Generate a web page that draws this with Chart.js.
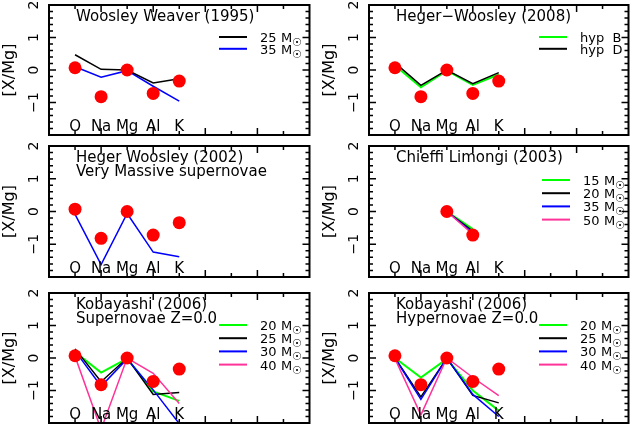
<!DOCTYPE html>
<html>
<head>
<meta charset="utf-8">
<script src="https://cdn.jsdelivr.net/npm/chart.js@4.4.1/dist/chart.umd.min.js"></script>
<style>
  html, body { margin: 0; padding: 0; background: #fff; overflow: hidden; }
  #wrap { position: relative; width: 635px; height: 425px; }
  #wrap canvas { position: absolute; }
</style>
</head>
<body>
<div id="wrap"></div>
<script>
// elements on the x axis and where they sit (axis runs 0..10)
const elements = ['O', 'Na', 'Mg', 'Al', 'K'];
const elementX = [1, 2, 3, 4, 5];
const yTicks = [2, 1, 0, -1];
const yTickLabels = ['2', '1', '0', '\u22121'];

// observed abundances (red dots)
const observed = [0.07, -0.82, 0.0, -0.72, -0.34];

// Woosley & Weaver (1995)
const ww95_25 = [0.47, 0.02, 0.0, -0.40, -0.27];
const ww95_35 = [0.10, -0.22, -0.02, -0.50, -0.96];

// Heger & Woosley (2008)
const hw08_B = [0.14, -0.53, -0.02, -0.46, -0.14];
const hw08_D = [0.22, -0.47, 0.0, -0.42, -0.08];

// Heger & Woosley (2002) very massive
const hw02 = [-0.09, -1.62, -0.06, -1.24, -1.38];

// Chieffi & Limongi (2003), only Mg and Al
const cl03_15 = [null, null, 0.0, -0.54, null];
const cl03_20 = [null, null, 0.0, -0.60, null];
const cl03_35 = [null, null, 0.0, -0.65, null];
const cl03_50 = [null, null, 0.0, -0.69, null];

// Kobayashi (2006) supernovae Z=0
const k06sn_20 = [0.18, -0.45, -0.02, -1.03, -1.32];
const k06sn_25 = [0.28, -0.73, 0.0, -1.12, -1.06];
const k06sn_30 = [0.22, -0.87, -0.03, -0.98, -2.02];
const k06sn_40 = [0.05, -2.2, 0.0, -0.47, -1.40];

// Kobayashi (2006) hypernovae Z=0
const k06hn_20 = [0.0, -0.60, -0.03, -1.00, -1.62];
const k06hn_25 = [0.0, -1.20, 0.0, -1.15, -1.38];
const k06hn_30 = [0.0, -1.27, 0.0, -1.12, -1.80];
const k06hn_40 = [-0.02, -1.75, 0.0, -0.60, -1.16];

const GREEN = '#00ff00', BLACK = '#000000', BLUE = '#0000ff', PINK = '#ff3399';
const FONT = '"DejaVu Sans", sans-serif';

function pts(vals) {
  return vals.map((v, i) => ({ x: elementX[i], y: v }));
}

function model(vals, color) {
  return {
    data: pts(vals), borderColor: color, borderWidth: color === GREEN ? 2 : 1.5,
    pointRadius: 0, fill: false, tension: 0, spanGaps: false
  };
}

function dots(vals) {
  return {
    data: pts(vals), showLine: false, pointRadius: 6.5, pointHoverRadius: 6.5,
    pointBackgroundColor: '#ff0000', pointBorderColor: '#ff0000', pointBorderWidth: 0
  };
}

// frame, inward ticks, labels, titles and legend
const decor = {
  id: 'decor',
  afterDatasetsDraw(chart, args, opts) {
    const { ctx, chartArea: a, scales: { x, y } } = chart;
    ctx.save();
    ctx.strokeStyle = '#000';
    ctx.lineWidth = 2;
    ctx.strokeRect(a.left, a.top, a.right - a.left, a.bottom - a.top);

    ctx.lineWidth = 1.5;
    ctx.beginPath();
    for (let i = 1; i < 10; i++) {
      const px = x.getPixelForValue(i);
      const len = i % 2 ? 4 : 7;
      ctx.moveTo(px, a.bottom); ctx.lineTo(px, a.bottom - len);
      ctx.moveTo(px, a.top); ctx.lineTo(px, a.top + len);
    }
    for (let k = -9; k <= 9; k++) {
      const py = y.getPixelForValue(k / 5);
      const len = k % 5 ? 4 : 7;
      ctx.moveTo(a.left, py); ctx.lineTo(a.left + len, py);
      ctx.moveTo(a.right, py); ctx.lineTo(a.right - len, py);
    }
    ctx.stroke();

    ctx.fillStyle = '#000';
    // element names inside the box
    ctx.font = '15px ' + FONT;
    ctx.textAlign = 'center';
    ctx.textBaseline = 'alphabetic';
    elements.forEach((el, i) => {
      ctx.fillText(el, x.getPixelForValue(elementX[i]), a.bottom - 4);
    });

    // rotated y tick labels and axis title
    ctx.font = '14px ' + FONT;
    yTicks.forEach((t, i) => {
      ctx.save();
      ctx.translate(a.left - 11, y.getPixelForValue(t));
      ctx.rotate(-Math.PI / 2);
      ctx.fillText(yTickLabels[i], 0, 0);
      ctx.restore();
    });
    ctx.save();
    ctx.font = '16px ' + FONT;
    ctx.translate(a.left - 35, (a.top + a.bottom) / 2);
    ctx.rotate(-Math.PI / 2);
    ctx.fillText('[X/Mg]', 0, 0);
    ctx.restore();

    // title lines
    ctx.textAlign = 'left';
    ctx.font = '15px ' + FONT;
    (opts.title || []).forEach((line, i) => {
      ctx.fillText(line, a.left + 27, a.top + 16 + i * 14);
    });

    // legend
    const lg = opts.legend || [];
    const gap = lg.length > 2 ? 13.2 : 11.8;
    const y0 = a.top + (opts.legendTop || 32);
    const lx = a.left + 170 + (opts.legendShift || 0);
    lg.forEach((item, i) => {
      const ly = y0 + i * gap;
      ctx.strokeStyle = item.color;
      ctx.lineWidth = 2;
      ctx.beginPath();
      ctx.moveTo(lx, ly); ctx.lineTo(lx + 28, ly);
      ctx.stroke();
      ctx.fillStyle = '#000';
      ctx.font = '13px ' + FONT;
      const tx = lx + 41;
      if (item.mass) {
        ctx.fillText(item.mass, tx, ly + 5);
        ctx.fillText('M', tx + 21, ly + 5);
        ctx.font = '11px ' + FONT;
        ctx.fillText('\u2609', tx + 32, ly + 9);
      } else {
        ctx.fillText(item.label, tx, ly + 5);
      }
    });
    ctx.restore();
  }
};

const panels = [
  { left: 49, top: 5, width: 262, height: 130,
    title: ['Woosley Weaver (1995)'],
    legend: [{ mass: '25', color: BLACK }, { mass: '35', color: BLUE }],
    datasets: [dots(observed), model(ww95_25, BLACK), model(ww95_35, BLUE)] },
  { left: 369, top: 5, width: 261, height: 130,
    title: ['Heger\u2212Woosley (2008)'],
    legend: [{ label: 'hyp  B', color: GREEN }, { label: 'hyp  D', color: BLACK }],
    datasets: [dots(observed), model(hw08_D, BLACK), model(hw08_B, GREEN)] },
  { left: 49, top: 146, width: 262, height: 131,
    title: ['Heger Woosley (2002)', 'Very Massive supernovae'],
    legend: [],
    datasets: [dots(observed), model(hw02, BLUE)] },
  { left: 369, top: 146, width: 261, height: 131,
    title: ['Chieffi Limongi (2003)'],
    legendTop: 34, legendShift: 3,
    legend: [{ mass: '15', color: GREEN }, { mass: '20', color: BLACK },
             { mass: '35', color: BLUE }, { mass: '50', color: PINK }],
    datasets: [dots([null, null, 0.0, -0.72, null]), model(cl03_50, PINK), model(cl03_35, BLUE),
               model(cl03_20, BLACK), model(cl03_15, GREEN)] },
  { left: 49, top: 293, width: 262, height: 130,
    title: ['Kobayashi (2006)', 'Supernovae Z=0.0'],
    legend: [{ mass: '20', color: GREEN }, { mass: '25', color: BLACK },
             { mass: '30', color: BLUE }, { mass: '40', color: PINK }],
    datasets: [dots(observed), model(k06sn_40, PINK), model(k06sn_30, BLUE),
               model(k06sn_25, BLACK), model(k06sn_20, GREEN)] },
  { left: 369, top: 293, width: 261, height: 130,
    title: ['Kobayashi (2006)', 'Hypernovae Z=0.0'],
    legend: [{ mass: '20', color: GREEN }, { mass: '25', color: BLACK },
             { mass: '30', color: BLUE }, { mass: '40', color: PINK }],
    datasets: [dots(observed), model(k06hn_40, PINK), model(k06hn_30, BLUE),
               model(k06hn_25, BLACK), model(k06hn_20, GREEN)] }
];

const PAD_L = 49, PAD_R = 5, PAD_V = 10;
const wrap = document.getElementById('wrap');

panels.forEach(p => {
  const canvas = document.createElement('canvas');
  const w = p.width + PAD_L + PAD_R, h = p.height + 2 * PAD_V;
  canvas.width = w; canvas.height = h;
  canvas.style.width = w + 'px'; canvas.style.height = h + 'px';
  canvas.style.left = (p.left - PAD_L) + 'px';
  canvas.style.top = (p.top - PAD_V) + 'px';
  wrap.appendChild(canvas);

  new Chart(canvas, {
    type: 'line',
    data: { datasets: p.datasets },
    options: {
      responsive: false,
      animation: false,
      devicePixelRatio: 1,
      layout: { padding: { left: PAD_L, right: PAD_R, top: PAD_V, bottom: PAD_V } },
      scales: {
        x: { type: 'linear', min: 0, max: 10, display: false },
        y: { type: 'linear', min: -2, max: 2, display: false }
      },
      plugins: {
        legend: { display: false },
        tooltip: { enabled: false },
        decor: { title: p.title, legend: p.legend, legendTop: p.legendTop, legendShift: p.legendShift }
      }
    },
    plugins: [decor]
  });
});
</script>
</body>
</html>
